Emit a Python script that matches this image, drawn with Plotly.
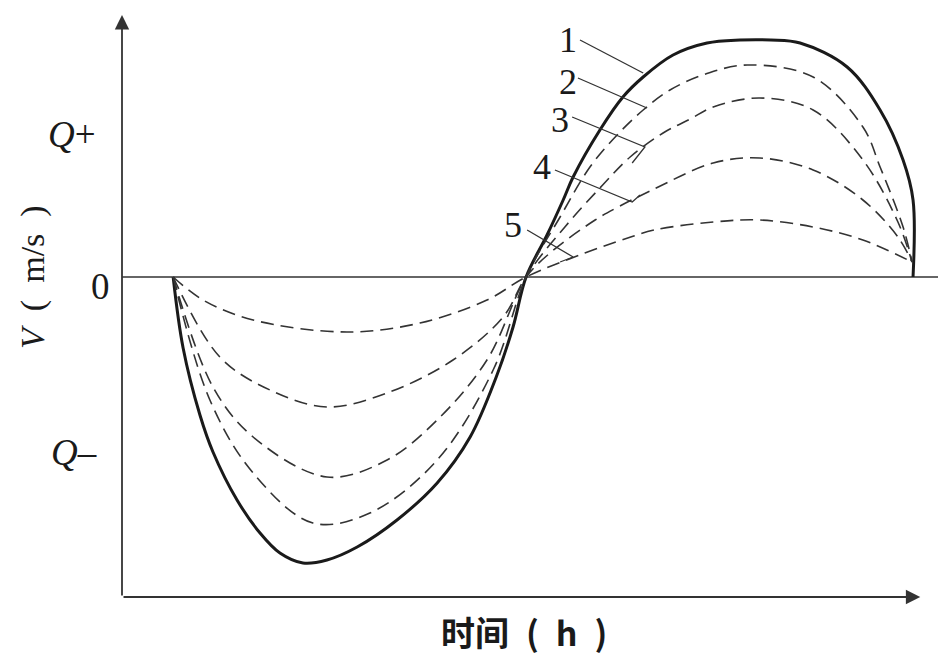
import plotly.graph_objects as go

# Flow velocity curves over a tide cycle (time in h, velocity in arbitrary m/s units)
curve_names = ["1", "2", "3", "4", "5"]

x1 = [1.49, 1.78, 2.27, 2.65, 3.35, 4.02, 4.6, 5.27, 5.97, 6.85, 8.01, 9.18, 10.14, 10.9, 11.39, 11.77,
      12.38, 12.85, 13.14, 13.92, 14.59, 15.18, 16.05, 17.04, 18.0, 18.9, 19.75, 21.12, 22.08, 22.75, 23.04, 23.04]
y1 = [0, -0.71, -1.38, -1.75, -2.23, -2.56, -2.76, -2.86, -2.83, -2.70, -2.43, -2.06, -1.60, -1.0, -0.5, 0,
      0.42, 0.77, 1.0, 1.47, 1.80, 2.0, 2.22, 2.34, 2.37, 2.37, 2.34, 2.10, 1.67, 1.17, 0.77, 0.0]

x2 = [1.49, 2.56, 3.82, 5.56, 7.22, 9.18, 10.81, 11.77, 12.76, 13.63, 14.42, 15.18, 15.96,
      17.0, 18.21, 20.13, 21.58, 22.08, 22.75, 23.01]
y2 = [0, -1.23, -1.96, -2.46, -2.36, -1.83, -0.93, 0, 0.6, 1.1, 1.42, 1.67, 1.87,
      2.03, 2.12, 2.0, 1.5, 1.1, 0.5, 0.15]

x3 = [1.49, 2.65, 3.82, 5.97, 7.72, 9.18, 10.63, 11.77, 12.9, 14.0, 14.8, 15.76, 16.55,
      17.22, 18.58, 20.13, 21.58, 22.6, 23.01]
y3 = [0, -1.10, -1.60, -2.0, -1.83, -1.43, -0.83, 0, 0.5, 0.92, 1.2, 1.44, 1.58,
      1.70, 1.79, 1.67, 1.17, 0.55, 0.15]

x4 = [1.49, 2.85, 4.31, 5.97, 7.72, 9.64, 11.1, 11.77, 12.5, 13.78, 14.45, 15.44, 17.22, 18.58,
      20.13, 21.58, 22.6, 23.01]
y4 = [0, -0.80, -1.13, -1.30, -1.16, -0.83, -0.40, 0, 0.25, 0.57, 0.70, 0.87, 1.14, 1.19,
      1.07, 0.77, 0.4, 0.15]

x5 = [1.49, 2.36, 3.82, 6.55, 8.68, 10.63, 11.77, 13.48, 14.73, 15.5, 17.22, 18.58,
      20.13, 21.58, 23.01]
y5 = [0, -0.23, -0.43, -0.55, -0.46, -0.23, 0, 0.24, 0.39, 0.47, 0.55, 0.57,
      0.5, 0.37, 0.15]

# curve number labels and their leader lines
label_x = [12.99, 12.99, 12.76, 12.23, 11.39]
label_y = [2.37, 1.95, 1.57, 1.10, 0.52]
leader_x = [[13.34, 15.18], [13.28, 15.29], [13.11, 15.23, 14.86], [12.61, 14.86, 15.09], [11.80, 13.14, 12.76]]
leader_y = [[2.37, 2.04], [1.99, 1.69], [1.60, 1.30, 1.14], [1.07, 0.75, 0.82], [0.47, 0.20, 0.15]]

# y-axis marks and axis titles (paper coordinates)
ylab_text = ["<i>Q</i>+", "0", "<i>Q</i>\u2013"]
ylab_px = [-0.061, -0.0255, -0.058]
ylab_py = [0.794, 0.533, 0.249]
ytitle = "<i>V</i>\u2002(\u2002m/s\u2002)"
xtitle = "<b>时间\u2002(\u2002h\u2002)</b>"

x_range = [0, 24]
y_range = [-3.2, 2.62]
x_arrow_end = 23.25

ink = "#1a1a1a"

fig = go.Figure()

curves = [(x1, y1), (x2, y2), (x3, y3), (x4, y4), (x5, y5)]
for i, (xs, ys) in enumerate(curves):
    if i == 0:
        line = dict(color=ink, width=3, shape="spline", smoothing=1.0)
    else:
        line = dict(color="#333333", width=1.6, dash="13px,7px", shape="spline", smoothing=1.0)
    fig.add_trace(go.Scatter(x=xs, y=ys, mode="lines", name=curve_names[i],
                             line=line, showlegend=False, hoverinfo="skip"))

# leader lines
for lx, ly in zip(leader_x, leader_y):
    fig.add_trace(go.Scatter(x=lx, y=ly, mode="lines", line=dict(color="#333333", width=1.3),
                             showlegend=False, hoverinfo="skip"))

# zero line
fig.add_shape(type="line", x0=x_range[0], x1=x_range[1], y0=0, y1=0,
              line=dict(color="#333333", width=1.6), layer="below")

annotations = []
# axis arrows
annotations.append(dict(x=0, y=y_range[1], ax=0, ay=y_range[0], xref="x", yref="y",
                        axref="x", ayref="y", showarrow=True, arrowhead=2, arrowsize=1.6,
                        arrowwidth=1.8, arrowcolor="#333333", text=""))
annotations.append(dict(x=x_arrow_end, y=y_range[0], ax=0, ay=y_range[0], xref="x", yref="y",
                        axref="x", ayref="y", showarrow=True, arrowhead=2, arrowsize=1.6,
                        arrowwidth=1.8, arrowcolor="#333333", text=""))

for t, xx, yy in zip(ylab_text, ylab_px, ylab_py):
    annotations.append(dict(x=xx, y=yy, xref="paper", yref="paper", text=t, showarrow=False,
                            xanchor="center", yanchor="middle",
                            font=dict(family="Liberation Serif", size=37, color=ink)))

for t, xx, yy in zip(curve_names, label_x, label_y):
    annotations.append(dict(x=xx, y=yy, xref="x", yref="y", text=t, showarrow=False,
                            xanchor="center", yanchor="middle",
                            font=dict(family="Liberation Serif", size=36, color=ink)))

annotations.append(dict(x=-0.108, y=0.55, xref="paper", yref="paper", text=ytitle,
                        textangle=-90, showarrow=False, xanchor="center", yanchor="middle",
                        font=dict(family="Liberation Serif", size=34, color=ink)))
annotations.append(dict(x=0.488, y=-0.06, xref="paper", yref="paper", text=xtitle,
                        showarrow=False, xanchor="center", yanchor="middle",
                        font=dict(family="Noto Sans CJK SC", size=34, color=ink)))

# the page adds an 8px body margin, so the figure is drawn 8px smaller
fig.update_layout(
    width=938, height=654,
    margin=dict(l=114, r=0, t=7, b=65),
    paper_bgcolor="white", plot_bgcolor="white",
    xaxis=dict(range=x_range, visible=False),
    yaxis=dict(range=y_range, visible=False),
    annotations=annotations,
    showlegend=False,
)

fig.write_html("out.html")
